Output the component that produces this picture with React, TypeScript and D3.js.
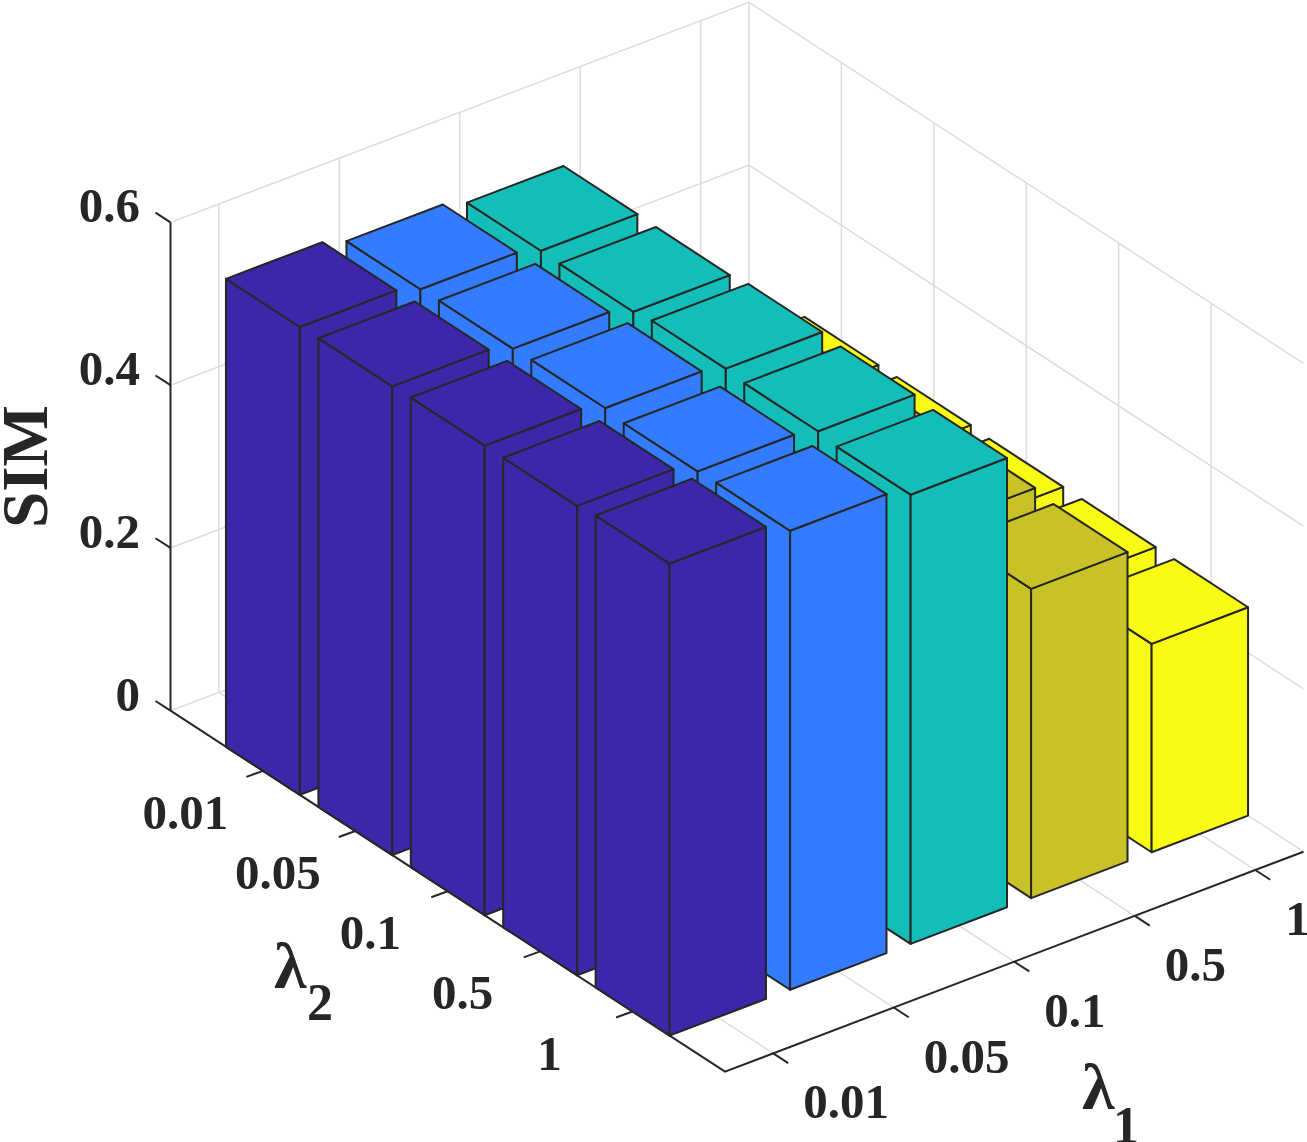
import * as d3 from 'd3';

const lambda1Labels = ['0.01', '0.05', '0.1', '0.5', '1'];
const lambda2Labels = ['0.01', '0.05', '0.1', '0.5', '1'];
const zTicks = [0, 0.2, 0.4, 0.6];

// one row per lambda1, one value per lambda2
const simLambda1_001 = [0.575, 0.576, 0.577, 0.577, 0.58];
const simLambda1_005 = [0.565, 0.566, 0.567, 0.563, 0.564];
const simLambda1_01 = [0.556, 0.555, 0.559, 0.556, 0.552];
const simLambda1_05 = [0.382, 0.382, 0.383, 0.385, 0.38];
const simLambda1_1 = [0.258, 0.258, 0.256, 0.256, 0.256];
const simValues = [simLambda1_001, simLambda1_005, simLambda1_01, simLambda1_05, simLambda1_1];

const barColors = ['#3e26a8', '#337bff', '#14beb8', '#c9c128', '#f9fb15'];

const WIDTH = 1307;
const HEIGHT = 1142;
const originX = 725;
const originY = 1071.7;
const INK = '#262626';
const GRID = '#dcdcdc';
const FONT = '"Liberation Serif", "Times New Roman", serif';

const xToPx = d3.scaleLinear().domain([0.6, 5.4]).range([0, 578.5]);
const xToPy = d3.scaleLinear().domain([0.6, 5.4]).range([0, -220]);
const yToPx = d3.scaleLinear().domain([0, 6]).range([-554.5, 0]);
const yToPy = d3.scaleLinear().domain([0, 6]).range([-361, 0]);
const zToPy = d3.scaleLinear().domain([0, 0.6]).range([0, -488.3]);

type P = [number, number];

// flat projection of MATLAB's view(3) style axes
const project = (x: number, y: number, z: number): P => [
  originX + xToPx(x) + yToPx(y),
  originY + xToPy(x) + yToPy(y) + zToPy(z),
];

const line = d3.line<P>();
const poly = (pts: P[]) => line(pts) + 'Z';

const X_MIN = 0.6;
const X_MAX = 5.4;
const Y_MIN = 0;
const Y_MAX = 6;
const Z_MAX = 0.6;
const HALF = 0.4;

const App = () => {
  const gridPaths: string[] = [];
  zTicks.forEach((z) => {
    gridPaths.push(line([project(X_MIN, Y_MIN, z), project(X_MAX, Y_MIN, z), project(X_MAX, Y_MAX, z)])!);
  });
  lambda1Labels.forEach((_, i) => {
    const x = i + 1;
    gridPaths.push(line([project(x, Y_MAX, 0), project(x, Y_MIN, 0), project(x, Y_MIN, Z_MAX)])!);
  });
  lambda2Labels.forEach((_, j) => {
    const y = j + 1;
    gridPaths.push(line([project(X_MIN, y, 0), project(X_MAX, y, 0), project(X_MAX, y, Z_MAX)])!);
  });
  gridPaths.push(line([project(X_MAX, Y_MIN, 0), project(X_MAX, Y_MIN, Z_MAX)])!);

  // painter's order: far corner first
  const bars = simValues
    .flatMap((row, i) => row.map((v, j) => ({ x: i + 1, y: j + 1, v, color: barColors[i] })))
    .sort((a, b) => b.x - b.y - (a.x - a.y));

  const tickStyle = { stroke: INK, strokeWidth: 2, fill: 'none' };
  const textStyle = { fontFamily: FONT, fontWeight: 700, fill: INK };

  return (
    <svg
      width={WIDTH}
      height={HEIGHT}
      viewBox={`0 0 ${WIDTH} ${HEIGHT}`}
      style={{ position: 'absolute', left: 0, top: 0, background: '#fff' }}
    >
      <g fill="none" stroke={GRID} strokeWidth={1.5}>
        {gridPaths.map((d, i) => (
          <path key={i} d={d} />
        ))}
      </g>

      {/* axis lines and ticks */}
      <path d={line([project(X_MIN, Y_MIN, 0), project(X_MIN, Y_MAX, 0), project(X_MAX, Y_MAX, 0)])!} {...tickStyle} />
      <path d={line([project(X_MIN, Y_MIN, 0), project(X_MIN, Y_MIN, Z_MAX)])!} {...tickStyle} />
      {zTicks.map((z) => {
        const [px, py] = project(X_MIN, Y_MIN, z);
        return (
          <g key={z}>
            <path d={line([[px, py], [px - 15, py - 9.7]])!} {...tickStyle} />
            <text x={140} y={py} textAnchor="end" fontSize={49} {...textStyle}>
              {z}
            </text>
          </g>
        );
      })}
      {lambda2Labels.map((label, j) => {
        const [px, py] = project(X_MIN, j + 1, 0);
        return (
          <g key={label}>
            <path d={line([[px, py], [px - 16.5, py + 6]])!} {...tickStyle} />
            <text
              x={px - (label === '1' ? 83 : 77.5)}
              y={py + 58}
              textAnchor="middle"
              fontSize={49}
              {...textStyle}
            >
              {label}
            </text>
          </g>
        );
      })}
      {lambda1Labels.map((label, i) => {
        const [px, py] = project(i + 1, Y_MAX, 0);
        return (
          <g key={label}>
            <path d={line([[px, py], [px + 15, py + 9.7]])!} {...tickStyle} />
            <text x={px + 30} y={py + 65} textAnchor="start" fontSize={49} {...textStyle}>
              {label}
            </text>
          </g>
        );
      })}

      {/* bars */}
      <g stroke={INK} strokeWidth={2} strokeLinejoin="round">
        {bars.map((b) => {
          const x0 = b.x - HALF;
          const x1 = b.x + HALF;
          const y0 = b.y - HALF;
          const y1 = b.y + HALF;
          return (
            <g key={`${b.x}-${b.y}`} fill={b.color}>
              <path d={poly([project(x0, y0, 0), project(x0, y1, 0), project(x0, y1, b.v), project(x0, y0, b.v)])} />
              <path d={poly([project(x0, y1, 0), project(x1, y1, 0), project(x1, y1, b.v), project(x0, y1, b.v)])} />
              <path d={poly([project(x0, y0, b.v), project(x1, y0, b.v), project(x1, y1, b.v), project(x0, y1, b.v)])} />
            </g>
          );
        })}
      </g>

      {/* axis titles */}
      <text transform="translate(47,466.5) rotate(-90)" textAnchor="middle" fontSize={65} {...textStyle}>
        SIM
      </text>
      <text x={274} y={988} fontSize={66} {...textStyle}>
        λ
      </text>
      <text x={307} y={1020} fontSize={52} {...textStyle}>
        2
      </text>
      <text x={1082} y={1109} fontSize={66} {...textStyle}>
        λ
      </text>
      <text x={1113} y={1143} fontSize={52} {...textStyle}>
        1
      </text>
    </svg>
  );
};

export default App;
